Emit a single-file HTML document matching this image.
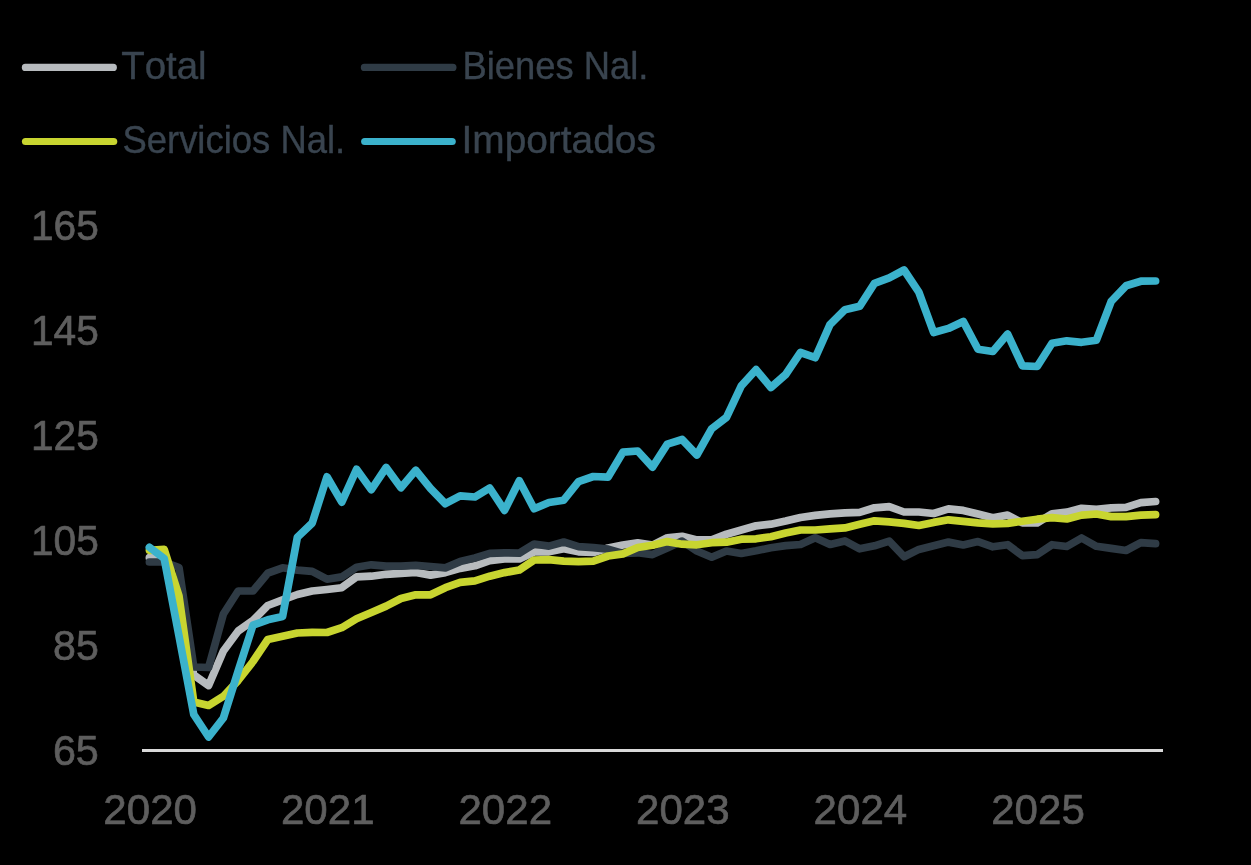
<!DOCTYPE html>
<html><head><meta charset="utf-8"><style>
html,body{margin:0;padding:0;background:#000;}
body{width:1251px;height:865px;overflow:hidden;font-family:"Liberation Sans", sans-serif;}
svg{display:block;}
text{}
.t{opacity:0.999;}
</style></head><body>
<svg width="1251" height="865" viewBox="0 0 1251 865"><rect width="1251" height="865" fill="#000"/><line x1="25.4" y1="67.4" x2="113.3" y2="67.4" stroke="#b7bbbe" stroke-width="7.2" stroke-linecap="round"/><line x1="364.4" y1="67.4" x2="452.9" y2="67.4" stroke="#2f3b45" stroke-width="7.2" stroke-linecap="round"/><line x1="25.5" y1="141.5" x2="113.7" y2="141.5" stroke="#c8d530" stroke-width="7.2" stroke-linecap="round"/><line x1="364.7" y1="141.5" x2="452.2" y2="141.5" stroke="#3bb2cc" stroke-width="7.2" stroke-linecap="round"/><g class="t" font-family='"Liberation Sans", sans-serif' style="font-kerning:none" stroke="#3a4550" stroke-width="0.4"><text transform="translate(121.24,79.3) scale(1.0086,1)" font-size="38.1" fill="#3a4550">Total</text><text transform="translate(462.41,79.3) scale(0.9552,1)" font-size="38.1" fill="#3a4550">Bienes Nal.</text><text transform="translate(122.44,153.3) scale(0.9570,1)" font-size="38.1" fill="#3a4550">Servicios Nal.</text><text transform="translate(461.52,153.3) scale(1.0194,1)" font-size="38.1" fill="#3a4550">Importados</text></g><g class="t" font-family='"Liberation Sans", sans-serif' style="font-kerning:none" stroke="#5f5f5f" stroke-width="0.7"><text transform="translate(30.90,240) scale(0.9378,1)" font-size="43.4" fill="#5f5f5f">165</text><text transform="translate(30.90,345) scale(0.9378,1)" font-size="43.4" fill="#5f5f5f">145</text><text transform="translate(30.90,450) scale(0.9378,1)" font-size="43.4" fill="#5f5f5f">125</text><text transform="translate(30.90,555) scale(0.9378,1)" font-size="43.4" fill="#5f5f5f">105</text><text transform="translate(53.11,659.6) scale(0.9469,1)" font-size="43.4" fill="#5f5f5f">85</text><text transform="translate(52.90,765) scale(0.9515,1)" font-size="43.4" fill="#5f5f5f">65</text><text transform="translate(150.15,824) scale(0.9701,1)" text-anchor="middle" font-size="43.4" fill="#5f5f5f">2020</text><text transform="translate(327.71,824) scale(0.9701,1)" text-anchor="middle" font-size="43.4" fill="#5f5f5f">2021</text><text transform="translate(505.28,824) scale(0.9701,1)" text-anchor="middle" font-size="43.4" fill="#5f5f5f">2022</text><text transform="translate(682.84,824) scale(0.9701,1)" text-anchor="middle" font-size="43.4" fill="#5f5f5f">2023</text><text transform="translate(860.41,824) scale(0.9701,1)" text-anchor="middle" font-size="43.4" fill="#5f5f5f">2024</text><text transform="translate(1037.97,824) scale(0.9701,1)" text-anchor="middle" font-size="43.4" fill="#5f5f5f">2025</text></g><rect x="142" y="749" width="1021" height="3" fill="#d9d9d9"/><polyline points="149.40,557.70 164.20,559.00 178.99,600.00 193.79,675.00 208.59,685.50 223.38,651.00 238.18,631.00 252.98,620.50 267.78,605.50 282.57,599.80 297.37,594.50 312.17,591.00 326.96,589.50 341.76,587.70 356.56,576.90 371.36,576.20 386.15,574.30 400.95,573.30 415.75,572.50 430.54,575.10 445.34,572.60 460.14,568.40 474.93,565.80 489.73,560.60 504.53,559.00 519.33,559.00 534.12,552.00 548.92,551.80 563.72,548.70 578.51,551.80 593.31,552.50 608.11,548.00 622.90,545.00 637.70,542.80 652.50,545.10 667.29,537.80 682.09,536.30 696.89,539.90 711.69,539.90 726.48,534.20 741.28,530.00 756.08,525.80 770.87,524.20 785.67,521.10 800.47,517.50 815.26,515.40 830.06,513.80 844.86,512.80 859.66,512.40 874.45,507.80 889.25,506.70 904.05,512.00 918.84,512.00 933.64,513.50 948.44,508.80 963.24,510.40 978.03,514.00 992.83,517.70 1007.63,515.10 1022.42,522.90 1037.22,522.90 1052.02,513.80 1066.81,512.20 1081.61,508.30 1096.41,509.30 1111.21,507.80 1126.00,507.30 1140.80,502.60 1155.60,501.50" fill="none" stroke="#b7bbbe" stroke-width="7.7" stroke-linejoin="round" stroke-linecap="round"/><polyline points="149.40,562.00 164.20,562.00 178.99,567.50 193.79,667.00 208.59,667.50 223.38,614.00 238.18,591.00 252.98,591.00 267.78,573.20 282.57,567.80 297.37,570.10 312.17,571.30 326.96,579.20 341.76,576.90 356.56,567.30 371.36,564.80 386.15,566.10 400.95,566.10 415.75,565.40 430.54,566.50 445.34,567.90 460.14,561.60 474.93,558.00 489.73,553.30 504.53,552.80 519.33,553.10 534.12,544.00 548.92,546.10 563.72,542.00 578.51,546.60 593.31,547.70 608.11,549.20 622.90,553.40 637.70,552.80 652.50,554.60 667.29,548.10 682.09,541.10 696.89,551.00 711.69,557.20 726.48,551.00 741.28,553.50 756.08,550.80 770.87,547.70 785.67,545.60 800.47,544.50 815.26,537.80 830.06,544.50 844.86,540.90 859.66,548.80 874.45,545.80 889.25,541.10 904.05,556.70 918.84,549.40 933.64,545.80 948.44,542.10 963.24,545.00 978.03,541.60 992.83,546.80 1007.63,544.70 1022.42,555.70 1037.22,554.60 1052.02,544.70 1066.81,546.50 1081.61,538.00 1096.41,546.30 1111.21,548.40 1126.00,550.50 1140.80,542.70 1155.60,543.70" fill="none" stroke="#2f3b45" stroke-width="7.7" stroke-linejoin="round" stroke-linecap="round"/><polyline points="149.40,550.30 164.20,549.30 178.99,596.00 193.79,702.00 208.59,705.50 223.38,696.30 238.18,680.50 252.98,661.50 267.78,639.50 282.57,636.20 297.37,633.00 312.17,632.40 326.96,632.50 341.76,627.70 356.56,618.80 371.36,612.50 386.15,606.10 400.95,598.50 415.75,594.80 430.54,594.80 445.34,587.70 460.14,582.40 474.93,580.90 489.73,576.20 504.53,572.60 519.33,570.00 534.12,560.00 548.92,559.60 563.72,561.20 578.51,561.70 593.31,561.20 608.11,556.00 622.90,553.90 637.70,547.50 652.50,545.30 667.29,541.60 682.09,544.20 696.89,544.80 711.69,542.70 726.48,542.20 741.28,539.20 756.08,538.80 770.87,536.70 785.67,533.10 800.47,530.00 815.26,530.00 830.06,528.90 844.86,527.90 859.66,524.30 874.45,520.80 889.25,521.80 904.05,523.40 918.84,525.50 933.64,522.40 948.44,519.80 963.24,521.30 978.03,522.90 992.83,523.90 1007.63,523.40 1022.42,521.30 1037.22,519.20 1052.02,517.70 1066.81,519.00 1081.61,515.10 1096.41,514.00 1111.21,516.60 1126.00,516.60 1140.80,515.10 1155.60,514.60" fill="none" stroke="#c8d530" stroke-width="7.7" stroke-linejoin="round" stroke-linecap="round"/><polyline points="149.40,547.30 164.20,558.50 178.99,636.00 193.79,714.50 208.59,737.00 223.38,718.00 238.18,671.00 252.98,625.10 267.78,619.80 282.57,616.50 297.37,537.30 312.17,523.10 326.96,476.80 341.76,502.10 356.56,469.30 371.36,489.70 386.15,467.50 400.95,487.80 415.75,470.30 430.54,488.50 445.34,503.70 460.14,495.90 474.93,497.00 489.73,488.00 504.53,510.40 519.33,480.80 534.12,508.80 548.92,502.50 563.72,500.20 578.51,481.70 593.31,476.50 608.11,477.10 622.90,452.20 637.70,451.00 652.50,467.20 667.29,444.10 682.09,439.50 696.89,455.00 711.69,428.70 726.48,417.40 741.28,385.80 756.08,369.70 770.87,387.50 785.67,374.50 800.47,352.50 815.26,357.70 830.06,324.40 844.86,309.80 859.66,306.30 874.45,283.40 889.25,277.90 904.05,270.00 918.84,292.20 933.64,332.50 948.44,328.40 963.24,321.40 978.03,349.20 992.83,351.50 1007.63,334.10 1022.42,365.90 1037.22,366.50 1052.02,343.20 1066.81,340.80 1081.61,342.30 1096.41,340.20 1111.21,301.40 1126.00,285.80 1140.80,281.20 1155.60,281.00" fill="none" stroke="#3bb2cc" stroke-width="7.7" stroke-linejoin="round" stroke-linecap="round"/></svg>
</body></html>
